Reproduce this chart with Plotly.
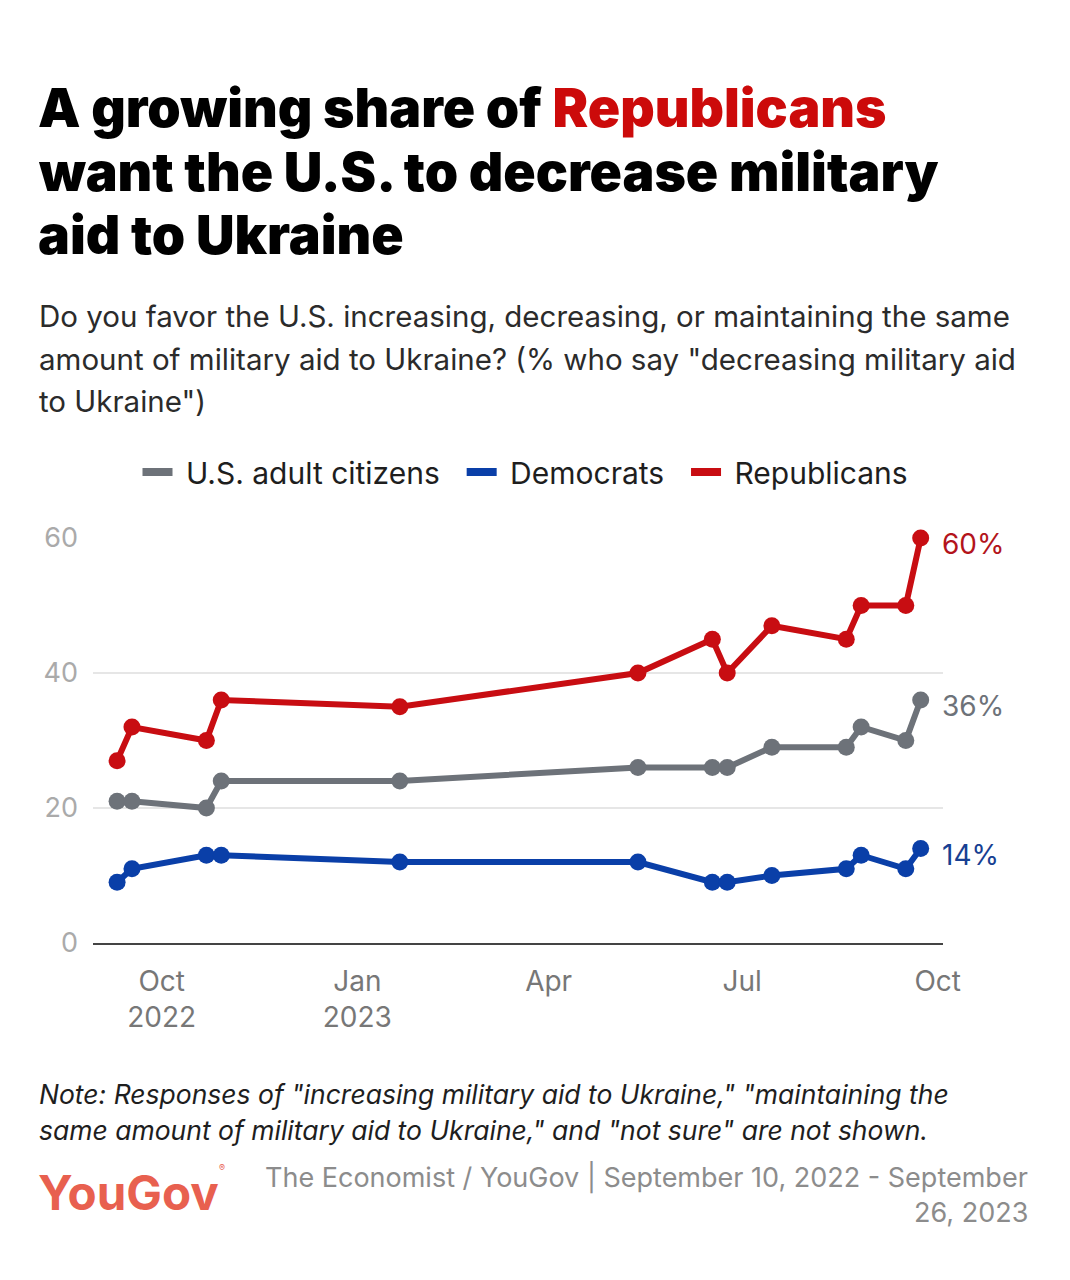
import plotly.graph_objects as go

# ---- data ----
dates = ["2022-09-10", "2022-09-17", "2022-10-22", "2022-10-29", "2023-01-21",
         "2023-05-13", "2023-06-17", "2023-06-24", "2023-07-15", "2023-08-19",
         "2023-08-26", "2023-09-16", "2023-09-23"]
adults = [21, 21, 20, 24, 24, 26, 26, 26, 29, 29, 32, 30, 36]
democrats = [9, 11, 13, 13, 12, 12, 9, 9, 10, 11, 13, 11, 14]
republicans = [27, 32, 30, 36, 35, 40, 45, 40, 47, 45, 50, 50, 60]

series_names = ["U.S. adult citizens", "Democrats", "Republicans"]
end_labels = ["36%", "14%", "60%"]

tick_vals = ["2022-10-01", "2023-01-01", "2023-04-01", "2023-07-01", "2023-10-01"]
tick_text = ["Oct<br>2022", "Jan<br>2023", "Apr", "Jul", "Oct"]
y_ticks = [0, 20, 40, 60]

# ---- style ----
OFF = 8  # page body margin
W, H = 1070 - 2 * OFF, 1280 - 2 * OFF
PLOT_L, PLOT_R, PLOT_T, PLOT_B = 93, 943, 538, 943  # page pixel coords
L, T = PLOT_L - OFF, PLOT_T - OFF
R, B = W - (PLOT_R - OFF), H - (PLOT_B - OFF)
PW, PH = PLOT_R - PLOT_L, PLOT_B - PLOT_T
FONT = "Inter"
GRAY, BLUE, RED = "#6d7279", "#0a3fa8", "#c80d12"
LABEL_COLORS = ["#6d7279", "#173f92", "#b3141b"]
colors = [GRAY, BLUE, RED]
NB = "\u00a0"


def px(x):
    return (x - PLOT_L) / PW


def py(y):
    return (PLOT_B - y) / PH


fig = go.Figure()
all_series = [adults, democrats, republicans]
for name, vals, col in zip(series_names, all_series, colors):
    fig.add_trace(go.Scatter(
        x=dates, y=vals, mode="lines+markers", name=name,
        line=dict(color=col, width=6), marker=dict(color=col, size=17),
        showlegend=False, cliponaxis=False, hoverinfo="skip"))
# legend entries (lines only)
for name, col in zip(series_names, colors):
    fig.add_trace(go.Scatter(
        x=[None], y=[None], mode="lines", name=NB + name + NB + NB,
        line=dict(color=col, width=8), showlegend=True))

annotations = []
# end labels
for vals, lab, col in zip(all_series, end_labels, LABEL_COLORS):
    annotations.append(dict(
        x=dates[-1], y=vals[-1], xref="x", yref="y", text=lab,
        showarrow=False, xanchor="left", yanchor="middle", xshift=19, yshift=-6,
        font=dict(family=FONT, size=28, color=col)))

# title
title_lines = [
    "A growing share of <span style='color:#cc0a0a'>Republicans</span>",
    "want the U.S. to decrease military",
    "aid to Ukraine",
]
for i, t in enumerate(title_lines):
    annotations.append(dict(
        x=px(36), y=py(107 + 64 * i), xref="paper", yref="paper", text=t,
        showarrow=False, xanchor="left", yanchor="middle", align="left",
        font=dict(family=FONT, size=53.5, color="#000000", weight=900)))

sub_lines = [
    "Do you favor the U.S. increasing, decreasing, or maintaining the same",
    "amount of military aid to Ukraine? (% who say \"decreasing military aid",
    "to Ukraine\")",
]
for i, t in enumerate(sub_lines):
    annotations.append(dict(
        x=px(37), y=py(316 + 42.5 * i), xref="paper", yref="paper", text=t,
        showarrow=False, xanchor="left", yanchor="middle", align="left",
        font=dict(family=FONT, size=29.5, color="#2b2b2b")))

note_lines = [
    "Note: Responses of \"increasing military aid to Ukraine,\" \"maintaining the",
    "same amount of military aid to Ukraine,\" and \"not sure\" are not shown.",
]
for i, t in enumerate(note_lines):
    annotations.append(dict(
        x=px(37), y=py(1094 + 36 * i), xref="paper", yref="paper", text="<i>" + t + "</i>",
        showarrow=False, xanchor="left", yanchor="middle", align="left",
        font=dict(family=FONT, size=26.5, color="#1e1e1e")))

src_lines = ["The Economist / YouGov | September 10, 2022 - September", "26, 2023"]
for i, t in enumerate(src_lines):
    annotations.append(dict(
        x=px(1030), y=py(1177 + 35 * i), xref="paper", yref="paper", text=t,
        showarrow=False, xanchor="right", yanchor="middle", align="right",
        font=dict(family=FONT, size=27, color="#8c8c8c")))

annotations.append(dict(
    x=px(36), y=py(1192), xref="paper", yref="paper", text="YouGov",
    showarrow=False, xanchor="left", yanchor="middle",
    font=dict(family=FONT, size=47.5, color="#e8604f", weight=700)))
annotations.append(dict(
    x=px(217), y=py(1167), xref="paper", yref="paper", text="®",
    showarrow=False, xanchor="left", yanchor="middle",
    font=dict(family=FONT, size=9, color="#e8604f")))

fig.update_layout(
    width=W, height=H,
    margin=dict(l=L, r=R, t=T, b=B, autoexpand=False),
    paper_bgcolor="white", plot_bgcolor="white",
    font=dict(family=FONT),
    showlegend=True,
    legend=dict(orientation="h", x=px(534), xanchor="center", y=py(472), yanchor="middle",
                font=dict(family=FONT, size=30, color="#1e1e1e"),
                itemwidth=30, bgcolor="rgba(0,0,0,0)", traceorder="normal"),
    annotations=annotations,
    xaxis=dict(
        type="date", range=["2022-08-29 16:00", "2023-10-03 12:00"],
        tickvals=tick_vals, ticktext=tick_text, showgrid=False,
        showline=True, linecolor="#444444", linewidth=2, ticks="",
        tickfont=dict(family=FONT, size=28, color="#777777"),
        ticklabelstandoff=12, zeroline=False, fixedrange=True),
    yaxis=dict(
        range=[0, 60], tickvals=y_ticks, showgrid=True, gridcolor="#e6e6e6",
        gridwidth=2, zeroline=False, showline=False, ticks="",
        tickfont=dict(family=FONT, size=27, color="#aaaaaa"),
        ticklabelstandoff=14, fixedrange=True),
)

fig.write_html("out.html")
